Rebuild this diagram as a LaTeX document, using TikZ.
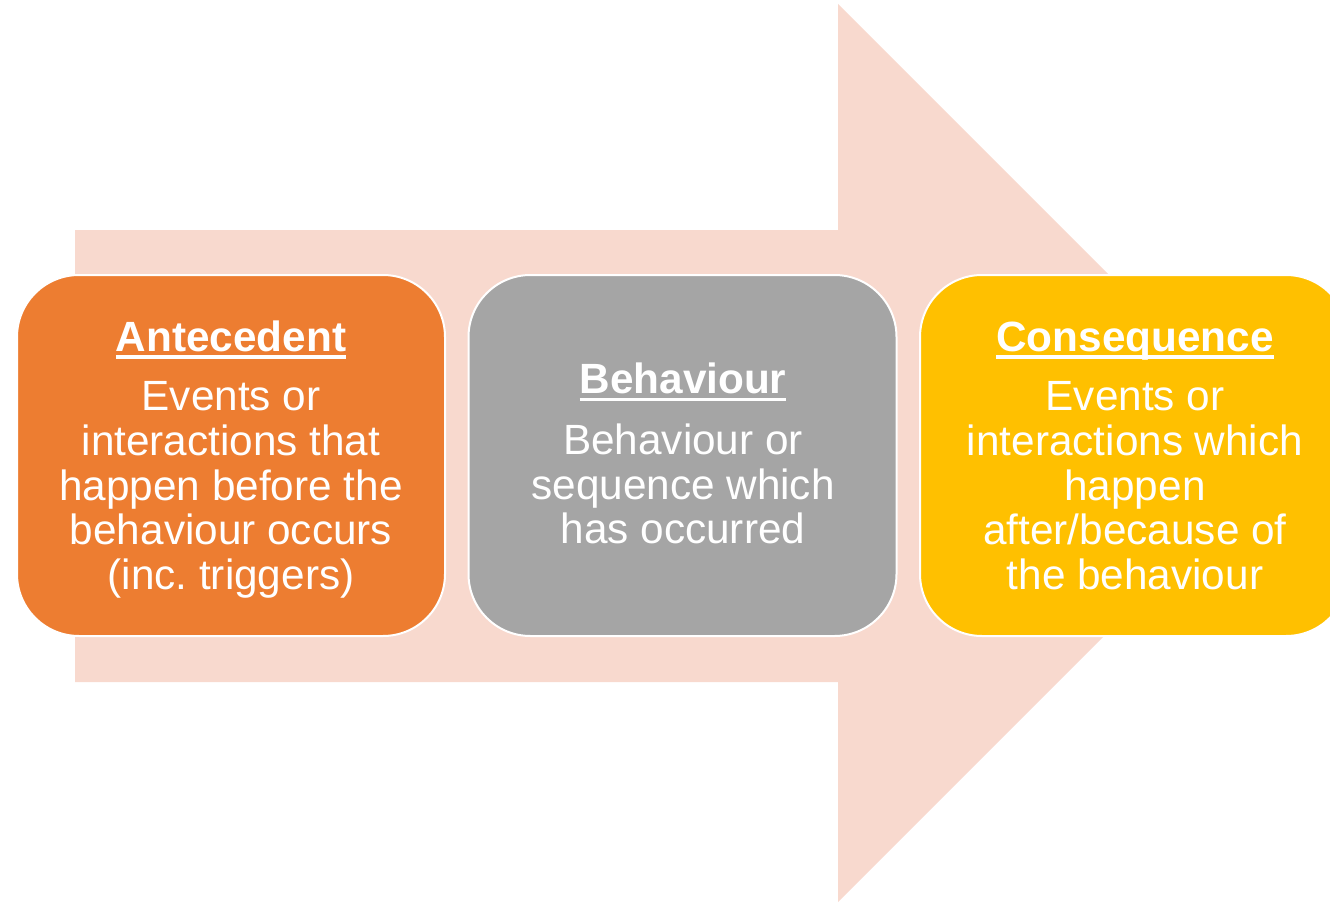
\documentclass[tikz,border=0pt]{standalone}
\usepackage{fontspec}
\setmainfont{Liberation Sans}
\definecolor{arrowpink}{HTML}{F8D9CE}
\definecolor{aorange}{HTML}{ED7D31}
\definecolor{bgray}{HTML}{A5A5A5}
\definecolor{cyellow}{HTML}{FFC000}
\newlength\myulwidth
\newcommand\myuline[1]{\settowidth\myulwidth{#1}\rlap{\rule[-7.8pt]{\myulwidth}{3.6pt}}#1}
\begin{document}
\begin{tikzpicture}[x=1pt,y=-1pt,
  stagebox/.style={draw=white,line width=2pt,rounded corners=62pt,minimum width=428pt,minimum height=361pt,inner sep=0pt},
  stagetext/.style={text=white,align=center,inner sep=0pt,anchor=north,font=\fontsize{42.3}{44.6}\selectfont}]
\useasboundingbox (0,0) rectangle (1330,904);
\fill[arrowpink] (75,230) -- (838,230) -- (838,4) -- (1287,453) -- (838,902) -- (838,682) -- (75,682) -- cycle;
\node[stagebox,fill=aorange] (ante) at (231,455.5) {};
\node[stagebox,fill=bgray] (beh) at (682.5,455.5) {};
\node[stagebox,fill=cyellow] (cons) at (1134,455.5) {};
\node[stagetext] (antetext) at (231,319) {\rule{0pt}{32pt}\textbf{\myuline{Antecedent}}\\[15pt]Events or\\interactions that\\happen before the\\behaviour occurs\\(inc.\ triggers)};
\node[stagetext] (behtext) at (683,361.3) {\rule{0pt}{32pt}\textbf{\myuline{Behaviour}}\\[16.5pt]Behaviour or\\sequence which\\has occurred};
\node[stagetext] (constext) at (1135,319) {\rule{0pt}{32pt}\textbf{\myuline{Consequence}}\\[15pt]Events or\\interactions which\\happen\\after/because of\\the behaviour};
\end{tikzpicture}
\end{document}
